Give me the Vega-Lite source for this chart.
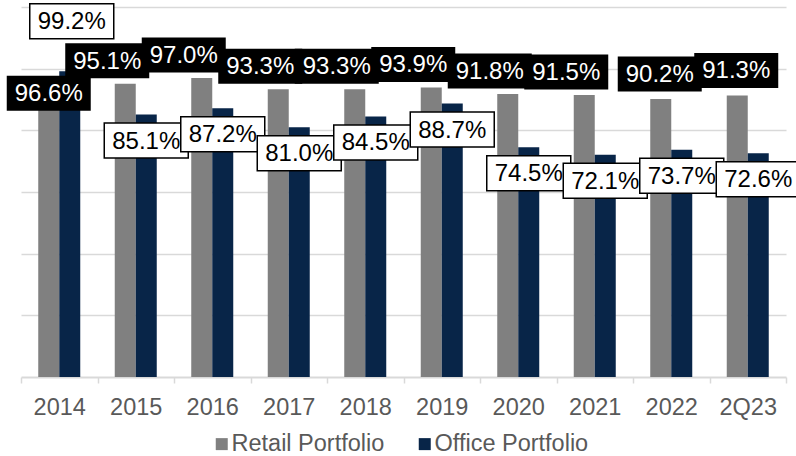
{
  "$schema": "https://vega.github.io/schema/vega-lite/v6.json",
  "width": 765,
  "height": 370,
  "autosize": {"type": "none"},
  "padding": {"left": 21, "top": 7, "right": 10, "bottom": 79},
  "background": "white",
  "config": {"view": {"stroke": null}, "font": "Liberation Sans"},
  "data": {
    "values": [
      {"year": "2014", "series": "Retail Portfolio", "value": 0.966},
      {"year": "2014", "series": "Office Portfolio", "value": 0.992},
      {"year": "2015", "series": "Retail Portfolio", "value": 0.951},
      {"year": "2015", "series": "Office Portfolio", "value": 0.851},
      {"year": "2016", "series": "Retail Portfolio", "value": 0.970},
      {"year": "2016", "series": "Office Portfolio", "value": 0.872},
      {"year": "2017", "series": "Retail Portfolio", "value": 0.933},
      {"year": "2017", "series": "Office Portfolio", "value": 0.810},
      {"year": "2018", "series": "Retail Portfolio", "value": 0.933},
      {"year": "2018", "series": "Office Portfolio", "value": 0.845},
      {"year": "2019", "series": "Retail Portfolio", "value": 0.939},
      {"year": "2019", "series": "Office Portfolio", "value": 0.887},
      {"year": "2020", "series": "Retail Portfolio", "value": 0.918},
      {"year": "2020", "series": "Office Portfolio", "value": 0.745},
      {"year": "2021", "series": "Retail Portfolio", "value": 0.915},
      {"year": "2021", "series": "Office Portfolio", "value": 0.721},
      {"year": "2022", "series": "Retail Portfolio", "value": 0.902},
      {"year": "2022", "series": "Office Portfolio", "value": 0.737},
      {"year": "2Q23", "series": "Retail Portfolio", "value": 0.913},
      {"year": "2Q23", "series": "Office Portfolio", "value": 0.726}
    ]
  },
  "encoding": {
    "x": {
      "field": "year",
      "type": "nominal",
      "sort": null,
      "scale": {"paddingInner": 0, "paddingOuter": 0},
      "axis": {
        "title": null,
        "labelAngle": 0,
        "labelFontSize": 23.5,
        "labelColor": "#595959",
        "domainColor": "#d9d9d9",
        "domainWidth": 2,
        "tickColor": "#d9d9d9",
        "tickWidth": 1.5,
        "tickSize": 6,
        "tickBand": "extent",
        "labelPadding": 12,
        "grid": false
      }
    },
    "xOffset": {
      "field": "series",
      "type": "nominal",
      "sort": ["Retail Portfolio", "Office Portfolio"],
      "scale": {"paddingInner": 0, "paddingOuter": 0.8214}
    },
    "y": {
      "field": "value",
      "type": "quantitative",
      "scale": {"domain": [0, 1.2], "nice": false},
      "axis": {
        "title": null,
        "labels": false,
        "ticks": false,
        "domain": false,
        "grid": true,
        "gridColor": "#d9d9d9",
        "gridWidth": 1.5,
        "values": [0.2, 0.4, 0.6, 0.8, 1.0, 1.2]
      }
    }
  },
  "layer": [
    {
      "mark": {"type": "bar"},
      "encoding": {
        "color": {
          "field": "series",
          "type": "nominal",
          "scale": {"domain": ["Retail Portfolio", "Office Portfolio"], "range": ["#808080", "#082548"]},
          "legend": {
            "title": null,
            "orient": "none",
            "legendX": 189,
            "legendY": 425,
            "direction": "horizontal",
            "symbolType": "square",
            "symbolSize": 144,
            "symbolStrokeWidth": 0,
            "labelFontSize": 23.5,
            "labelColor": "#595959",
            "columnPadding": 28,
            "labelOffset": -2
          }
        }
      }
    },
    {
      "transform": [{"filter": "datum.series === 'Retail Portfolio'"}],
      "mark": {"type": "point", "size": 4, "filled": true, "fill": "black", "opacity": 1, "strokeWidth": 0},
      "encoding": {
        "shape": {
          "condition": [
            {"test": "datum.year === '2014'", "value": "M -42 -3.5 h 84 v 35 h -84 Z"},
            {"test": "datum.year === '2022' || datum.year === '2Q23'", "value": "M -43 -42.5 h 84 v 35 h -84 Z"}
          ],
          "value": "M -60 -40.5 h 84 v 35 h -84 Z"
        }
      }
    },
    {
      "transform": [{"filter": "datum.series === 'Retail Portfolio'"}],
      "mark": {
        "type": "text",
        "color": "white",
        "fontSize": 24,
        "baseline": "middle",
        "align": "center",
        "dx": {"expr": "datum.year === '2014' ? 0 : (datum.year === '2022' || datum.year === '2Q23') ? -1 : -18"},
        "dy": {"expr": "datum.year === '2014' ? 15 : (datum.year === '2022' || datum.year === '2Q23') ? -24 : -22"}
      },
      "encoding": {"text": {"field": "value", "type": "quantitative", "format": ".1%"}}
    },
    {
      "transform": [{"filter": "datum.series === 'Office Portfolio'"}],
      "mark": {"type": "point", "size": 4, "filled": true, "fill": "white", "stroke": "black", "strokeWidth": 1.5, "opacity": 1},
      "encoding": {
        "shape": {
          "condition": {"test": "datum.year === '2014'", "value": "M -40 -67.5 h 84 v 35 h -84 Z"},
          "value": "M -42 8.5 h 84 v 35 h -84 Z"
        }
      }
    },
    {
      "transform": [{"filter": "datum.series === 'Office Portfolio'"}],
      "mark": {
        "type": "text",
        "color": "black",
        "fontSize": 24,
        "baseline": "middle",
        "align": "center",
        "dx": {"expr": "datum.year === '2014' ? 2 : 0"},
        "dy": {"expr": "datum.year === '2014' ? -49 : 27"}
      },
      "encoding": {"text": {"field": "value", "type": "quantitative", "format": ".1%"}}
    }
  ]
}
